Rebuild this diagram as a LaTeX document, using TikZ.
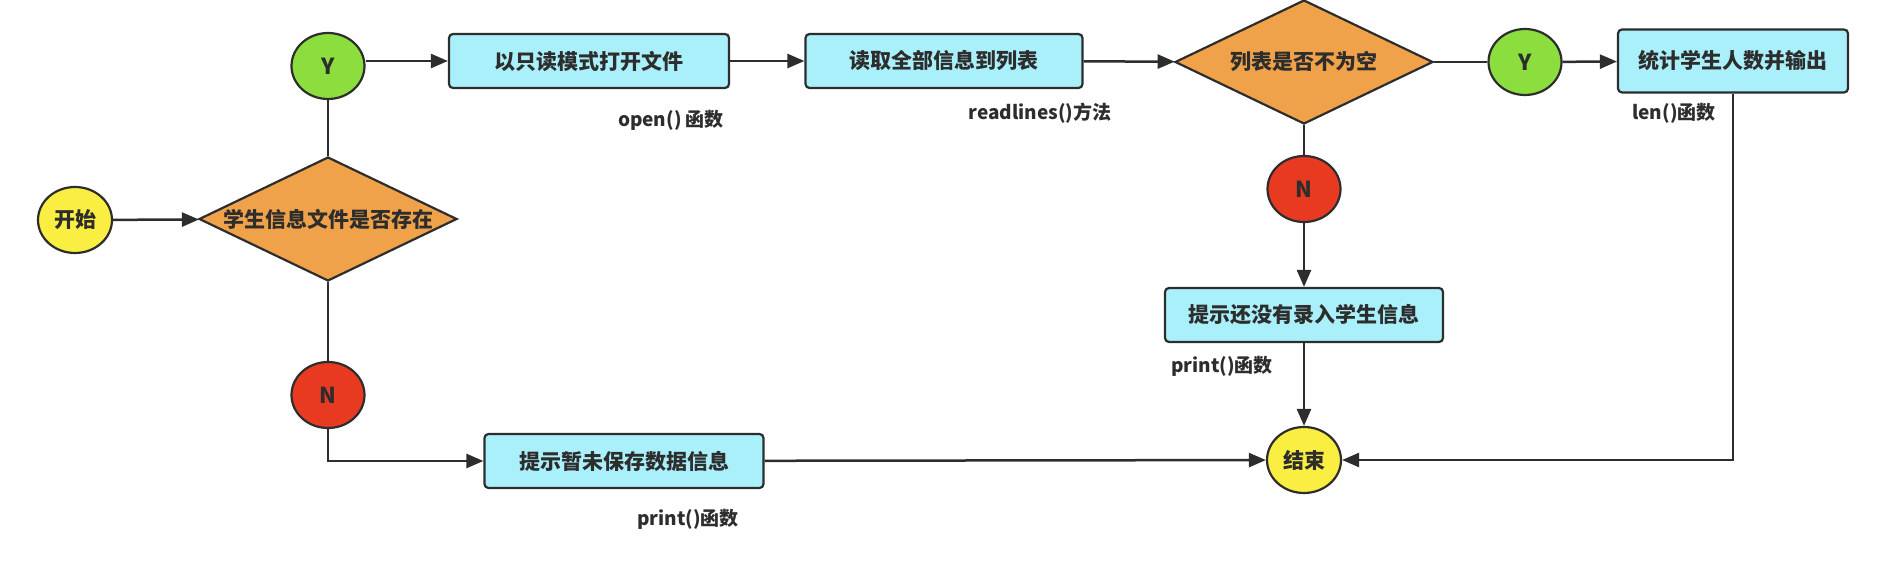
\documentclass[tikz,border=0pt]{standalone}
\usepackage{fontspec}
\setmainfont{Noto Sans CJK SC}
\usepackage{xcolor}
\usetikzlibrary{positioning, calc, arrows.meta, shapes.geometric}
\definecolor{startend}{RGB}{250, 238, 66}
\definecolor{yesnode}{RGB}{140, 222, 62}
\definecolor{nonode}{RGB}{232, 58, 32}
\definecolor{decide}{RGB}{240, 162, 74}
\definecolor{stepfill}{RGB}{170, 240, 250}
\definecolor{edge}{RGB}{45, 45, 45}

\begin{document}
\begin{tikzpicture}[x=1pt, y=-1pt,
        terminal/.style={ellipse, draw=edge, line width=2.2pt, fill=startend, inner sep=0pt,
              minimum width=74pt, minimum height=66pt, font=\fontsize{21}{24}\selectfont\bfseries, text=edge},
        yesno/.style={ellipse, draw=edge, line width=2.2pt, inner sep=0pt,
              minimum width=73pt, minimum height=66pt, font=\fontsize{22}{24}\selectfont\bfseries, text=edge},
        decision/.style={diamond, aspect=2.1, draw=edge, line width=2.2pt, fill=decide, inner sep=0pt,
              minimum width=258pt, minimum height=124pt, font=\fontsize{21}{24}\selectfont\bfseries, text=edge},
        stepbox/.style={rectangle, rounded corners=4pt, draw=edge, line width=2.2pt, fill=stepfill,
              minimum width=278pt, minimum height=54pt, font=\fontsize{21}{24}\selectfont\bfseries, text=edge},
        note/.style={font=\fontsize{19}{22}\selectfont\bfseries, text=edge, inner sep=0pt},
        flow/.style={draw=edge, line width=2.5pt, -{Triangle[length=17pt, width=14pt]}},
        link/.style={draw=edge, line width=2.5pt}]
        \useasboundingbox (0,0) rectangle (1895,561);

        \node[terminal] (start) at (75,220) {开始};
        \node[decision] (hasfile) at (328,219) {学生信息文件是否存在};
        \node[yesno, fill=yesnode] (yesfile) at (328,66) {Y};
        \node[yesno, fill=nonode] (nofile) at (328,395) {N};

        \node[stepbox, minimum width=280pt] (openfile) at (589,61) {以只读模式打开文件};
        \node[stepbox, minimum width=277pt] (readall) at (944,61) {读取全部信息到列表};
        \node[decision] (notempty) at (1304,62) {列表是否不为空};
        \node[yesno, fill=yesnode] (yeslist) at (1525,62) {Y};
        \node[stepbox, minimum width=230pt, minimum height=63pt] (count) at (1733,61) {统计学生人数并输出};
        \node[yesno, fill=nonode] (nolist) at (1304,189) {N};
        \node[stepbox] (norecord) at (1304,315) {提示还没有录入学生信息};
        \node[stepbox, minimum width=279pt] (nosave) at (624,461) {提示暂未保存数据信息};
        \node[terminal] (finish) at (1304,460) {结束};

        \node[note] (openhint) at (671,120) {open() 函数};
        \node[note] (readhint) at (1040,113) {readlines()方法};
        \node[note] (lenhint) at (1674,113) {len()函数};
        \node[note] (printhint) at (1222,366) {print()函数};
        \node[note] (savehint) at (688,519) {print()函数};

        \draw[flow] (start) -- (hasfile);
        \draw[link] (hasfile.north) -- (yesfile);
        \draw[flow] (yesfile.east |- openfile.west) -- (openfile.west);
        \draw[flow] (openfile) -- (readall);
        \draw[flow] (readall) -- (notempty);
        \draw[link] (notempty.east) -- (yeslist);
        \draw[flow] (yeslist) -- (count);
        \draw[link] (notempty.south) -- (nolist);
        \draw[flow] (nolist) -- (norecord);
        \draw[flow] (norecord) -- (finish);
        \draw[flow] (count.south) |- (finish.east);
        \draw[link] (hasfile.south) -- (nofile);
        \draw[flow] (nofile.south) |- (nosave.west);
        \draw[flow] (nosave) -- (finish);
    \end{tikzpicture}
\end{document}
